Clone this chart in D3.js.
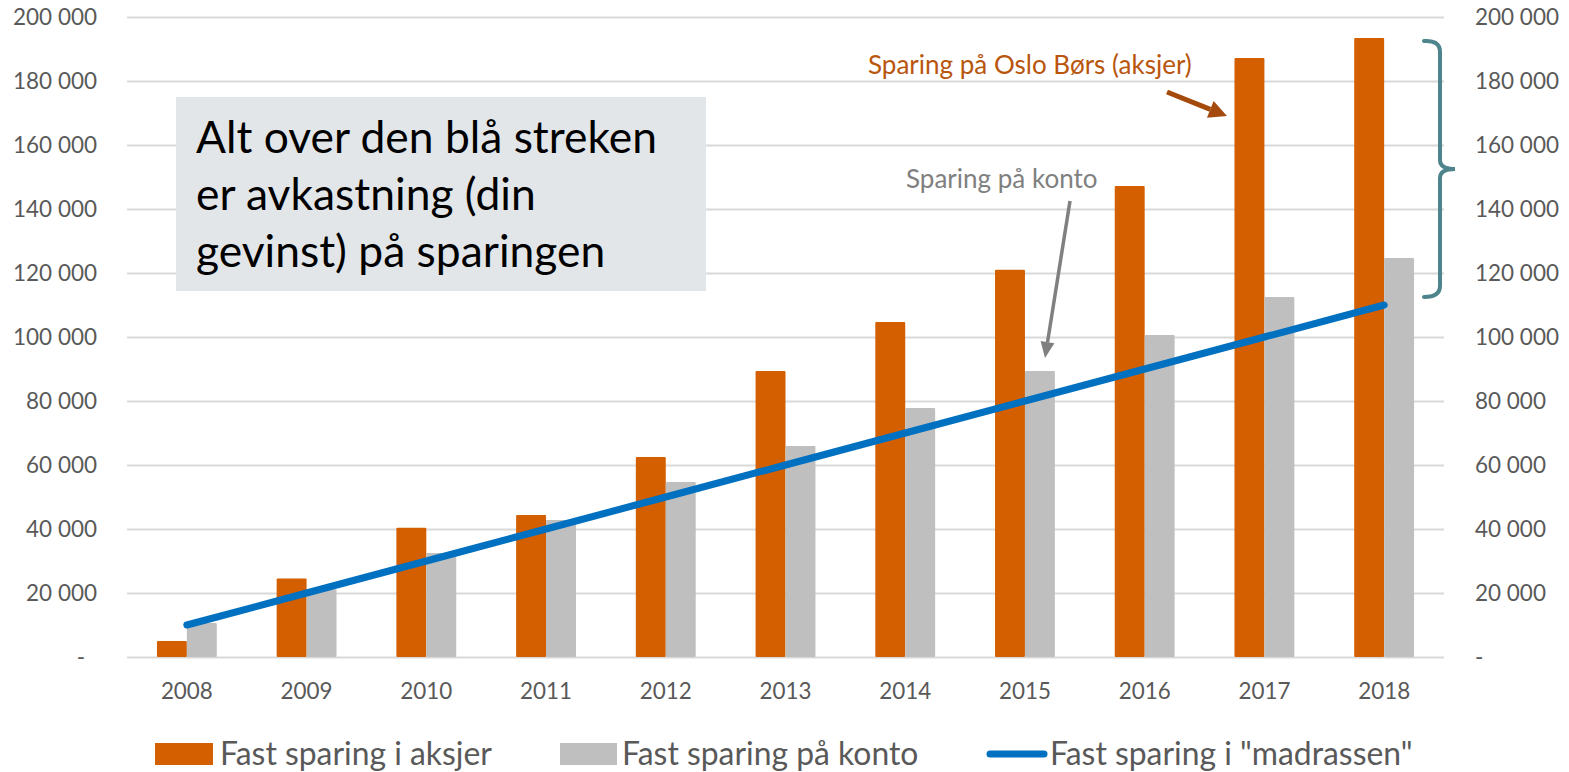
<!DOCTYPE html>
<html><head><meta charset="utf-8">
<script src="https://cdn.jsdelivr.net/npm/d3@7"></script>
<style>body{margin:0;background:#fff}svg{display:block}text{font-family:Lato,"Open Sans",sans-serif}</style>
</head><body><svg id="c" width="1569" height="772"></svg>
<script>
const years = ["2008","2009","2010","2011","2012","2013","2014","2015","2016","2017","2018"];
const aksjer = [5000, 24500, 40400, 44400, 62500, 89400, 104700, 121000, 147200, 187200, 193400];
const konto = [10600, 21200, 32500, 42800, 54700, 65900, 77800, 89400, 100600, 112500, 124700];
const madrass = [10000, 20000, 30000, 40000, 50000, 60000, 70000, 80000, 90000, 100000, 110000];
const yTicks = [0, 20000, 40000, 60000, 80000, 100000, 120000, 140000, 160000, 180000, 200000];
const seriesNames = ["Fast sparing i aksjer", "Fast sparing på konto", "Fast sparing i \"madrassen\""];
const boxLines = ["Alt over den blå streken", "er avkastning (din", "gevinst) på sparingen"];
const noteAksjer = "Sparing på Oslo Børs (aksjer)";
const noteKonto = "Sparing på konto";

const C = {orange:"#d45f00", gray:"#bfbfbf", blue:"#0070c0", grid:"#d9d9d9", tick:"#595959",
  noteO:"#b9560e", arrowO:"#a44a0c", noteG:"#808080", bracket:"#4e858d", box:"#e3e6e9"};

const svg = d3.select("#c");
const L = 127, R = 1444, T = 17, B = 657;
const x = d3.scaleBand().domain(years).range([L, R]).paddingInner(0).paddingOuter(0);
const xs = d3.scaleBand().domain(["a","k"]).range([0, x.bandwidth()]).paddingInner(0).paddingOuter(1);
const y = d3.scaleLinear().domain([0, 200000]).range([B, T]);

const fmt = v => v === 0 ? "-" : d3.format(",")(v).replace(/,/g, "\u00a0");
function fitSize(node, target, fs) { node.setAttribute("font-size", fs); const w = node.getComputedTextLength(); return fs * target / w; }

// grid + left axis
const gl = svg.append("g").attr("transform", `translate(${L},0)`)
  .call(d3.axisLeft(y).tickValues(yTicks).tickSize(-(R - L)).tickPadding(30).tickFormat(fmt));
gl.select(".domain").remove();
gl.selectAll(".tick line").attr("stroke", C.grid).attr("stroke-width", 2);
gl.selectAll(".tick text").attr("fill", C.tick).attr("font-family", "Lato");
const yfs = fitSize(gl.selectAll(".tick text").filter(d => d === 200000).node(), 84, 20);
gl.selectAll(".tick text").attr("font-size", yfs).attr("dy", "0.35em");
gl.selectAll(".tick text").filter(d => d === 0).attr("dx", -12);

// right axis
const gr = svg.append("g").attr("transform", `translate(${R},0)`)
  .call(d3.axisRight(y).tickValues(yTicks).tickSize(0).tickPadding(31).tickFormat(fmt));
gr.select(".domain").remove();
gr.selectAll(".tick text").attr("fill", C.tick).attr("font-family", "Lato").attr("font-size", yfs).attr("dy", "0.35em");

// x axis labels
const gx = svg.append("g").attr("transform", `translate(0,${B})`)
  .call(d3.axisBottom(x).tickSize(0).tickPadding(26));
gx.select(".domain").remove();
gx.selectAll(".tick text").attr("fill", C.tick).attr("font-family", "Lato");
const xfs = fitSize(gx.select(".tick text").node(), 52, 20);
gx.selectAll(".tick text").attr("font-size", xfs);

// bars
svg.append("g").selectAll("rect").data(years).join("rect")
  .attr("x", d => x(d) + xs("a")).attr("width", xs.bandwidth())
  .attr("y", (d, i) => y(aksjer[i])).attr("height", (d, i) => B - y(aksjer[i]))
  .attr("fill", C.orange).attr("rx", 1);
svg.append("g").selectAll("rect").data(years).join("rect")
  .attr("x", d => x(d) + xs("k")).attr("width", xs.bandwidth())
  .attr("y", (d, i) => y(konto[i])).attr("height", (d, i) => B - y(konto[i]))
  .attr("fill", C.gray).attr("rx", 1);

// line
const line = d3.line().x((d, i) => x(years[i]) + x.bandwidth() / 2).y(d => y(d));
svg.append("path").datum(madrass).attr("d", line).attr("fill", "none")
  .attr("stroke", C.blue).attr("stroke-width", 7).attr("stroke-linecap", "round");

// text box
svg.append("rect").attr("x", 176).attr("y", 97).attr("width", 530).attr("height", 194).attr("fill", C.box);
const bt = svg.append("g");
const bl = bt.selectAll("text").data(boxLines).join("text")
  .attr("x", 196).attr("y", (d, i) => 153 + i * 57).attr("fill", "#000").attr("font-family", "Lato").text(d => d);
const bfs = fitSize(bl.node(), 461, 40);
bl.attr("font-size", bfs);

// annotations
function arrow(g, x1, y1, x2, y2, color, w, hl, hw) {
  const a = Math.atan2(y2 - y1, x2 - x1), ca = Math.cos(a), sa = Math.sin(a);
  const bx = x2 - hl * ca, by = y2 - hl * sa;
  g.append("line").attr("x1", x1).attr("y1", y1).attr("x2", bx).attr("y2", by)
    .attr("stroke", color).attr("stroke-width", w);
  g.append("path").attr("d", `M${x2},${y2}L${bx - hw * sa},${by + hw * ca}L${bx + hw * sa},${by - hw * ca}Z`).attr("fill", color);
}
const to = svg.append("text").attr("x", 868).attr("y", 74).attr("fill", C.noteO).attr("font-family", "Lato").text(noteAksjer);
const ofs = fitSize(to.node(), 324, 22); to.attr("font-size", ofs);
arrow(svg.append("g"), 1167, 92, 1227, 116, C.arrowO, 5, 18, 9);
const tk = svg.append("text").attr("x", 906).attr("y", 188).attr("fill", C.noteG).attr("font-family", "Lato").attr("font-size", ofs).text(noteKonto);
arrow(svg.append("g"), 1070, 201, 1045, 358, C.noteG, 3.5, 16, 7);

// bracket
svg.append("path").attr("fill", "none").attr("stroke", C.bracket).attr("stroke-width", 4).attr("stroke-linecap", "round")
  .attr("d", "M1424,41 Q1440,40 1440,52 L1440,160 Q1440,169 1455,169 Q1440,169 1440,178 L1440,286 Q1440,297 1424,297");

// legend
const lg = svg.append("g");
lg.append("rect").attr("x", 155).attr("y", 743).attr("width", 58).attr("height", 22).attr("fill", C.orange);
lg.append("rect").attr("x", 560).attr("y", 743).attr("width", 57).attr("height", 22).attr("fill", C.gray);
lg.append("line").attr("x1", 990).attr("x2", 1044).attr("y1", 754).attr("y2", 754).attr("stroke", C.blue).attr("stroke-width", 7).attr("stroke-linecap", "round");
const lx = [220, 622, 1050];
const lt = lg.selectAll("text").data(seriesNames).join("text")
  .attr("x", (d, i) => lx[i]).attr("y", 754).attr("dy", "0.35em").attr("fill", C.tick).attr("font-family", "Lato").text(d => d);
const lfs = fitSize(lt.node(), 272, 26);
lt.attr("font-size", lfs);
</script></body></html>
